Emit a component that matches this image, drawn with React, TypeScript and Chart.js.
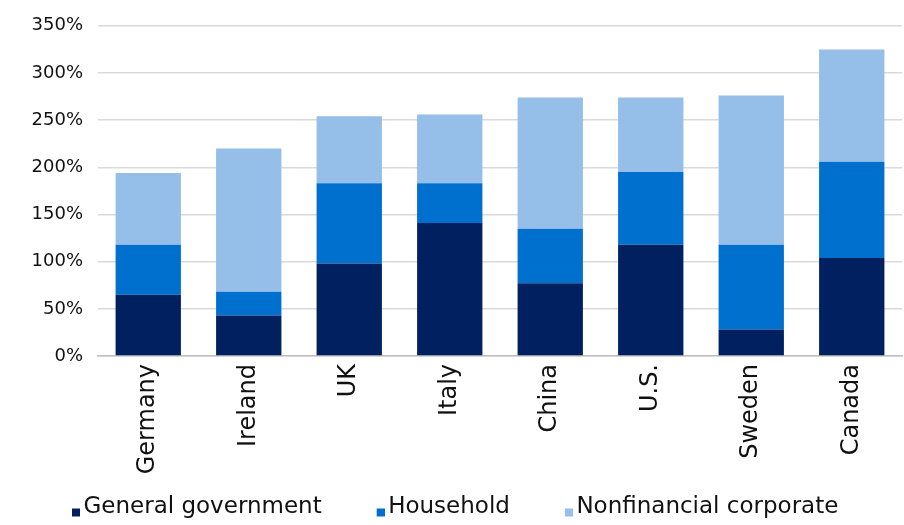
import React, { useEffect, useRef } from "react";
import { Chart, registerables } from "chart.js";

Chart.register(...registerables);

const categories = ["Germany", "Ireland", "UK", "Italy", "China", "U.S.", "Sweden", "Canada"];
const seriesNames = ["General government", "Household", "Nonfinancial corporate"];
const generalGovernment = [65, 43, 98, 141, 77, 118, 28, 104];
const household = [53, 25, 85, 42, 58, 77, 90, 102];
const nonfinancialCorporate = [76, 152, 71, 73, 139, 79, 158, 119];
const yTicks = [0, 50, 100, 150, 200, 250, 300, 350];
const seriesColors = ["#002060", "#0070CE", "#95BEE8"];

const FONT = "'DejaVu Sans', sans-serif";
const LEGEND_FONT = 23;
const LEGEND_BOX = 45; // legend box area width (leading gap + marker)
const MARK_SHIFT = 8;

function makeMarker(color: string): HTMLCanvasElement {
  const c = document.createElement("canvas");
  c.width = LEGEND_BOX + 2 * MARK_SHIFT;
  c.height = 20;
  const g = c.getContext("2d")!;
  g.fillStyle = color;
  g.fillRect(LEGEND_BOX + MARK_SHIFT, 11, 8, 8);
  return c;
}

export default function App() {
  const ref = useRef<HTMLCanvasElement | null>(null);

  useEffect(() => {
    if (!ref.current) return;
    const markers = seriesColors.map(makeMarker);
    const chart = new Chart(ref.current, {
      type: "bar",
      data: {
        labels: categories,
        datasets: [
          { label: seriesNames[0], data: generalGovernment, backgroundColor: seriesColors[0] },
          { label: seriesNames[1], data: household, backgroundColor: seriesColors[1] },
          { label: seriesNames[2], data: nonfinancialCorporate, backgroundColor: seriesColors[2] },
        ],
      },
      options: {
        responsive: false,
        animation: false,
        maintainAspectRatio: false,
        layout: { padding: { left: 17, right: 2, top: 12, bottom: -4 } },
        datasets: { bar: { barPercentage: 0.65, categoryPercentage: 1 } },
        plugins: {
          tooltip: { enabled: false },
          legend: {
            position: "bottom",
            align: "start",
            labels: {
              font: { family: FONT, size: LEGEND_FONT },
              color: "#111",
              usePointStyle: true,
              pointStyleWidth: LEGEND_BOX,
              padding: 10,
              generateLabels: (ch: any) =>
                ch.data.datasets.map((ds: any, i: number) => ({
                  text: ds.label,
                  fillStyle: ds.backgroundColor,
                  strokeStyle: ds.backgroundColor,
                  lineWidth: 0,
                  pointStyle: markers[i],
                  hidden: false,
                  datasetIndex: i,
                  fontColor: "#111",
                })),
            },
          },
        },
        scales: {
          x: {
            stacked: true,
            grid: { display: false, drawTicks: false },
            border: { display: true, color: "#bfbfbf", width: 1.5 },
            afterFit: (scale: any) => {
              scale.height = 130;
            },
            ticks: {
              font: { family: FONT, size: 24 },
              color: "#111",
              maxRotation: 90,
              minRotation: 90,
              padding: 8,
            },
          },
          y: {
            stacked: true,
            min: 0,
            max: 350,
            afterBuildTicks: (axis: any) => {
              axis.ticks = yTicks.map((v) => ({ value: v }));
            },
            grid: { color: "#d9d9d9", lineWidth: 1.5, drawTicks: false },
            border: { display: false },
            afterFit: (scale: any) => {
              scale.width = 81;
            },
            ticks: {
              font: { family: FONT, size: 18 },
              color: "#111",
              padding: 15,
              callback: (v: any) => v + "%",
            },
          },
        },
      },
    });
    return () => chart.destroy();
  }, []);

  return (
    <div style={{ position: "fixed", left: 0, top: 0, width: 904, height: 525, background: "#fff" }}>
      <canvas ref={ref} width={904} height={525} style={{ width: 904, height: 525 }} />
    </div>
  );
}
